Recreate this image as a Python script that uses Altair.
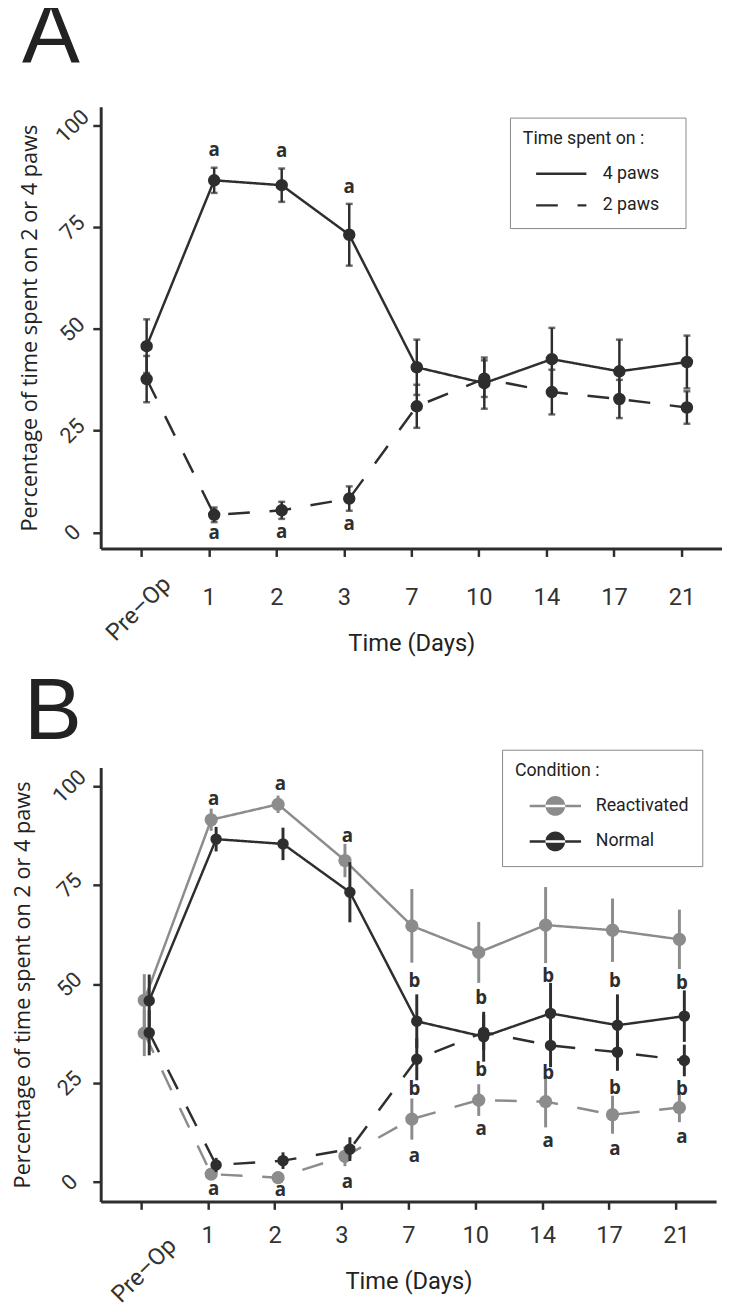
import altair as alt
import pandas as pd

# ---------------- data ----------------
days = ["Pre–Op", "1", "2", "3", "7", "10", "14", "17", "21"]

normal_4paws = [45.8, 86.6, 85.4, 73.2, 40.6, 36.7, 42.6, 39.6, 41.9]
normal_4paws_err = [6.6, 3.1, 4.1, 7.6, 6.8, 6.3, 7.7, 7.8, 6.5]
normal_2paws = [37.7, 4.3, 5.4, 8.3, 31.0, 37.8, 34.5, 32.8, 30.7]
normal_2paws_err = [5.7, 1.8, 2.1, 3.0, 5.3, 4.5, 5.5, 4.7, 4.0]

react_4paws = [45.9, 91.5, 95.4, 81.2, 64.7, 58.0, 64.9, 63.6, 61.3]
react_4paws_err = [6.6, 2.8, 2.2, 4.2, 9.3, 7.7, 9.6, 8.0, 7.5]
react_2paws = [37.6, 2.0, 1.1, 6.5, 15.9, 20.7, 20.3, 17.0, 18.8]
react_2paws_err = [5.8, 1.5, 1.0, 2.5, 5.2, 4.0, 6.5, 4.8, 3.7]

paws_labels = ["4 paws", "2 paws"]
conditions = ["Reactivated", "Normal"]

a_letter_days = ["1", "2", "3", "1", "2", "3"]
a_letter_y = [94.0, 93.7, 85.0, -0.2, 0.0, 2.0]
a_letter_txt = ["a", "a", "a", "a", "a", "a"]

b_letter_days = ["1", "2", "3",
                 "7", "10", "14", "17", "21",
                 "7", "10", "14", "17", "21",
                 "1", "2", "3", "7", "10", "14", "17", "21"]
b_letter_y = [96.8, 100.4, 87.5,
              50.8, 46.4, 52.0, 50.8, 50.2,
              23.4, 28.3, 27.5, 23.8, 23.5,
              -1.9, -2.1, -0.1, 6.5, 13.4, 10.3, 8.4, 11.3]
b_letter_txt = ["a"] * 3 + ["b"] * 10 + ["a"] * 8

# ---------------- styling ----------------
DARK = "#2e2e2e"
GRAY = "#8c8c8c"
TXT = "#333333"
LEGFONT = "Roboto"


def make_df(cond, paws, mean, err):
    return pd.DataFrame({
        "day": days,
        "cond": cond,
        "paws": paws,
        "mean": mean,
        "lo": [m - e for m, e in zip(mean, err)],
        "hi": [m + e for m, e in zip(mean, err)],
    })


dfA = pd.concat([make_df("Normal", "4 paws", normal_4paws, normal_4paws_err),
                 make_df("Normal", "2 paws", normal_2paws, normal_2paws_err)])
dfB_r = pd.concat([make_df("Reactivated", "4 paws", react_4paws, react_4paws_err),
                   make_df("Reactivated", "2 paws", react_2paws, react_2paws_err)])
dfB_n = pd.concat([make_df("Normal", "4 paws", normal_4paws, normal_4paws_err),
                   make_df("Normal", "2 paws", normal_2paws, normal_2paws_err)])
lettersA = pd.DataFrame({"day": a_letter_days, "y": a_letter_y, "txt": a_letter_txt})
lettersB = pd.DataFrame({"day": b_letter_days, "y": b_letter_y, "txt": b_letter_txt})
preop = pd.DataFrame({"day": [days[0]]})


def x_axis(lp):
    return alt.Axis(title="Time (Days)", labelExpr="datum.value == 'Pre–Op' ? '' : datum.label",
                    labelAngle=0, labelFont="Roboto", labelFontSize=24, labelColor=TXT,
                    labelPadding=lp, tickSize=8, tickWidth=2.5, tickColor=DARK,
                    domainColor=DARK, domainWidth=3, grid=False,
                    titleFont="Roboto", titleFontSize=24, titleFontWeight="normal",
                    titleColor="#222222", titlePadding=22)


def y_axis(lp, tp):
    return alt.Axis(title="Percentage of time spent on 2 or 4 paws", values=[0, 25, 50, 75, 100],
                    labelAngle=315, labelAlign="center", labelBaseline="middle",
                    labelFont="Roboto", labelFontSize=22, labelColor=TXT, labelPadding=lp,
                    tickSize=8, tickWidth=2.5, tickColor=DARK, domainColor=DARK, domainWidth=3,
                    grid=False, titleFont="Open Sans", titleFontSize=22,
                    titleFontWeight="normal", titleColor="#222222", titlePadding=tp)


def panel(ydom, xlp, ylp, ytp):
    xs = alt.Scale(type="point", domain=days, padding=0.6)
    ys = alt.Scale(domain=ydom, nice=False, zero=False)
    X = alt.X("day:N", scale=xs, axis=x_axis(xlp), sort=days)
    Yf = lambda f: alt.Y(f, type="quantitative", scale=ys, axis=y_axis(ylp, ytp))
    return X, Yf


# ---------------- panel A ----------------
WA, HA = 630, 448
XA, YA = panel([-4.0, 104.7], 30, 21, 10)
offA = 5.5

a_rules = alt.Chart(dfA).mark_rule(color=DARK, strokeWidth=2.5, xOffset=offA).encode(
    x=XA, y=YA("lo"), y2="hi:Q", detail="paws:N")
a_cap_lo = alt.Chart(dfA).mark_tick(color=DARK, orient="horizontal", size=7, thickness=2.5,
                                    xOffset=offA).encode(x=XA, y=YA("lo"))
a_cap_hi = alt.Chart(dfA).mark_tick(color=DARK, orient="horizontal", size=7, thickness=2.5,
                                    xOffset=offA).encode(x=XA, y=YA("hi"))
a_lines = alt.Chart(dfA).mark_line(color=DARK, strokeWidth=2.5, xOffset=offA).encode(
    x=XA, y=YA("mean"),
    strokeDash=alt.StrokeDash(
        "paws:N",
        scale=alt.Scale(domain=paws_labels, range=[[1, 0], [22, 20]]),
        legend=alt.Legend(title="Time spent on :", orient="none", legendX=415, legendY=11,
                          padding=13, strokeColor="#888888", fillColor="white",
                          titleFont=LEGFONT, titleFontSize=18, titleFontWeight="normal",
                          titleColor="#222222", titlePadding=16,
                          labelFont=LEGFONT, labelFontSize=18, labelColor="#222222",
                          labelExpr="datum.label + '\u2800'",
                          labelOffset=15, symbolType="stroke", symbolSize=2600,
                          symbolStrokeWidth=2.5, symbolStrokeColor=DARK, symbolOffset=12,
                          clipHeight=20, rowPadding=12)))
a_points = alt.Chart(dfA).mark_circle(color=DARK, size=160, opacity=1, xOffset=offA).encode(
    x=XA, y=YA("mean"))
a_letters = alt.Chart(lettersA).mark_text(font="Open Sans", fontWeight="bold", fontSize=19,
                                          color=DARK, baseline="middle", xOffset=offA).encode(
    x=XA, y=YA("y"), text="txt:N")
a_pre = alt.Chart(preop).mark_text(align="right", baseline="top", angle=315, font="Roboto",
                                   fontSize=24, color=TXT, xOffset=18).encode(
    x=XA, y=alt.value(HA + 24), text="day:N")

chartA = alt.layer(a_rules, a_cap_lo, a_cap_hi, a_lines, a_points, a_letters, a_pre).properties(
    width=WA, height=HA,
    title=alt.TitleParams("A", anchor="start", frame="bounds", fontSize=88,
                          font="Liberation Sans", fontWeight="normal", color="#222222",
                          dx=3, offset=25))

# ---------------- panel B ----------------
WB, HB = 624, 440
XB, YB = panel([-4.9, 104.7], 15, 24, 14)
offR, offN = 3.5, 8.5

legend_symbol = ("M-2.6,-0.13L2.6,-0.13L2.6,0.13L-2.6,0.13Z"
                 "M-1,0A1,1,0,1,0,1,0A1,1,0,1,0,-1,0Z")
colB = lambda: alt.Color(
    "cond:N", scale=alt.Scale(domain=conditions, range=[GRAY, DARK]),
    legend=alt.Legend(title="Condition :", orient="none", legendX=407, legendY=-18,
                      padding=13, strokeColor="#888888", fillColor="white",
                      titleFont=LEGFONT, titleFontSize=18, titleFontWeight="normal",
                      titleColor="#222222", titlePadding=14,
                      labelFont=LEGFONT, labelFontSize=18, labelColor="#222222",
                      labelOffset=30, symbolType=legend_symbol, symbolSize=400,
                      symbolOpacity=1, symbolOffset=30, clipHeight=24, rowPadding=12))


def cond_layers(df, col, off, size):
    rules = alt.Chart(df).mark_rule(color=col, strokeWidth=3, xOffset=off).encode(
        x=XB, y=YB("lo"), y2="hi:Q", detail="paws:N")
    lines = alt.Chart(df).mark_line(color=col, strokeWidth=2.5, xOffset=off).encode(
        x=XB, y=YB("mean"),
        strokeDash=alt.StrokeDash("paws:N",
                                  scale=alt.Scale(domain=paws_labels, range=[[1, 0], [22, 20]]),
                                  legend=None))
    points = alt.Chart(df).mark_circle(size=size, opacity=1, xOffset=off).encode(
        x=XB, y=YB("mean"), color=colB())
    return [rules, lines, points]


b_letters = alt.Chart(lettersB).mark_text(font="Open Sans", fontWeight="bold", fontSize=19,
                                          color=DARK, baseline="middle", xOffset=6).encode(
    x=XB, y=YB("y"), text="txt:N")
b_pre = alt.Chart(preop).mark_text(align="right", baseline="top", angle=315, font="Roboto",
                                   fontSize=24, color=TXT, xOffset=24).encode(
    x=XB, y=alt.value(HB + 33), text="day:N")

chartB = alt.layer(*cond_layers(dfB_r, GRAY, offR, 180),
                   *cond_layers(dfB_n, DARK, offN, 135),
                   b_letters, b_pre).properties(
    width=WB, height=HB,
    title=alt.TitleParams("B", anchor="start", frame="bounds", fontSize=88,
                          font="Liberation Sans", fontWeight="normal", color="#222222",
                          dx=12, offset=-8))

chart = alt.concat(chartA, chartB, columns=1, spacing=15, align="none").resolve_scale(
    x="independent", y="independent", color="independent", strokeDash="independent"
).resolve_legend(
    color="independent", strokeDash="independent"
).properties(
    padding={"left": 4, "top": -24, "right": 0, "bottom": -5}
).configure_view(stroke=None)

chart.save("out.html", embed_options={"renderer": "svg", "actions": False})
